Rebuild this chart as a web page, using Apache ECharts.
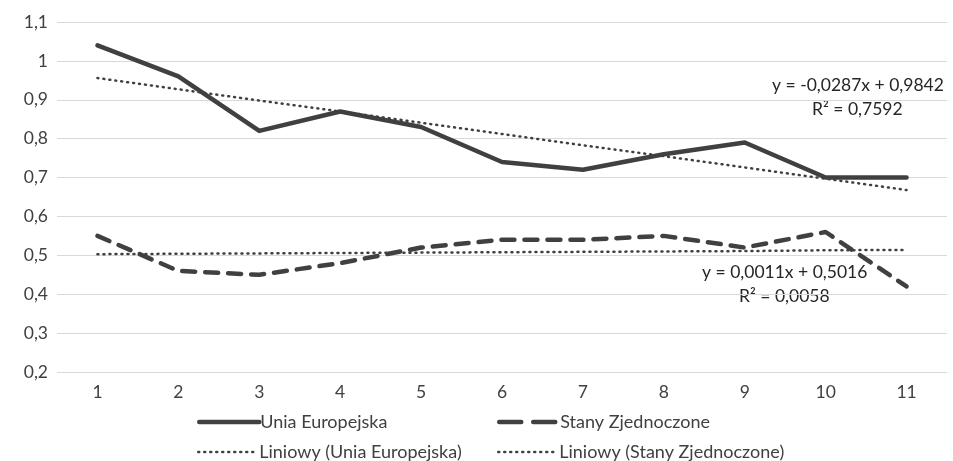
<!DOCTYPE html>
<html>
<head>
<meta charset="utf-8">
<script src="https://cdn.jsdelivr.net/npm/echarts@6/dist/echarts.min.js"></script>
<style>
  html, body { margin: 0; padding: 0; background: #fff; }
  #chart { width: 953px; height: 461px; }
</style>
</head>
<body>
<div id="chart"></div>
<script>
var categories = ['1', '2', '3', '4', '5', '6', '7', '8', '9', '10', '11'];
var euValues = [1.04, 0.96, 0.82, 0.87, 0.83, 0.74, 0.72, 0.76, 0.79, 0.70, 0.70];
var usValues = [0.55, 0.46, 0.45, 0.48, 0.52, 0.54, 0.54, 0.55, 0.52, 0.56, 0.42];
// trend lines
var euTrend = [0.956, 0.927, 0.898, 0.870, 0.841, 0.812, 0.783, 0.755, 0.726, 0.697, 0.668];
var usTrend = [0.503, 0.504, 0.505, 0.506, 0.507, 0.508, 0.509, 0.510, 0.511, 0.513, 0.514];
var seriesNames = ['Unia Europejska', 'Stany Zjednoczone', 'Liniowy (Unia Europejska)', 'Liniowy (Stany Zjednoczone)'];

var FONT = 'Lato';
var FS = 17.5;
var TXT = '#404040';
var LINE = '#404040';

var chart = echarts.init(document.getElementById('chart'));

function legendAt(name, left, top, lineStyle) {
  return {
    data: [name],
    left: left,
    top: top,
    padding: 0,
    itemWidth: 60,
    itemHeight: 12,
    itemGap: 4,
    itemStyle: { opacity: 0 },
    lineStyle: lineStyle,
    textStyle: { fontFamily: FONT, fontSize: 18, color: TXT, padding: [0, 0, 0, -4] }
  };
}

var thick = { width: 4.5, cap: 'round' };
var dashed = { width: 4.5, type: [22, 12], cap: 'round' };
var dotted = { width: 2.5, type: [1, 5], cap: 'round' };

var option = {
  animation: false,
  backgroundColor: '#fff',
  textStyle: { fontFamily: FONT },
  grid: { left: 57, right: 6, top: 22, bottom: 89 },
  legend: [
    legendAt(seriesNames[0], 197, 413, thick),
    legendAt(seriesNames[1], 497, 413, dashed),
    legendAt(seriesNames[2], 197, 443, dotted),
    legendAt(seriesNames[3], 497, 443, dotted)
  ],
  xAxis: {
    type: 'category',
    data: categories,
    boundaryGap: true,
    axisLine: { show: false },
    axisTick: { show: false },
    axisLabel: { fontFamily: FONT, fontSize: FS, color: TXT, margin: 11 }
  },
  yAxis: {
    type: 'value',
    min: 0.2,
    max: 1.1,
    interval: 0.1,
    axisLine: { show: false },
    axisTick: { show: false },
    splitLine: { lineStyle: { color: '#d9d9d9', width: 1.2 } },
    axisLabel: {
      fontFamily: FONT, fontSize: FS, color: TXT, margin: 9,
      formatter: function (v) { return String(Math.round(v * 10) / 10).replace('.', ','); }
    }
  },
  series: [
    {
      name: seriesNames[0], type: 'line', data: euValues, symbol: 'none',
      color: LINE,
      lineStyle: { color: LINE, width: 4.5, cap: 'round', join: 'round' },
      z: 5
    },
    {
      name: seriesNames[1], type: 'line', data: usValues, symbol: 'none',
      color: LINE,
      lineStyle: { color: LINE, width: 4.5, type: [13, 10], cap: 'round' },
      z: 5
    },
    {
      name: seriesNames[2], type: 'line', data: euTrend, symbol: 'none',
      color: LINE,
      lineStyle: { color: LINE, width: 2.5, type: [1, 5], cap: 'round' },
      z: 4
    },
    {
      name: seriesNames[3], type: 'line', data: usTrend, symbol: 'none',
      color: LINE,
      lineStyle: { color: LINE, width: 2.5, type: [1, 5], cap: 'round' },
      z: 4
    }
  ],
  graphic: [
    { type: 'text', left: 772, top: 76, style: { text: 'y = -0,0287x + 0,9842', fontFamily: FONT, fontSize: FS, fill: '#262626' } },
    { type: 'text', left: 812, top: 100, style: { text: 'R² = 0,7592', fontFamily: FONT, fontSize: FS, fill: '#262626' } },
    { type: 'text', left: 702, top: 263, style: { text: 'y = 0,0011x + 0,5016', fontFamily: FONT, fontSize: FS, fill: '#262626' } },
    { type: 'text', left: 739, top: 287, style: { text: 'R² = 0,0058', fontFamily: FONT, fontSize: FS, fill: '#262626' } }
  ]
};

chart.setOption(option);
</script>
</body>
</html>
